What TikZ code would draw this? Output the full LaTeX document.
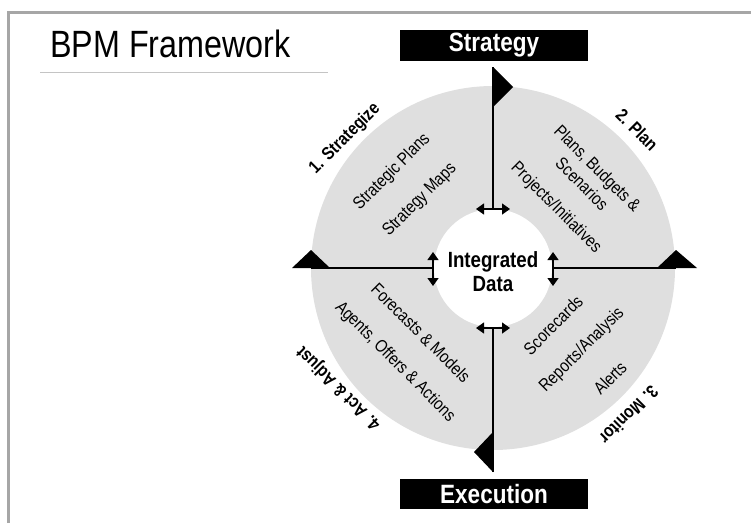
\documentclass[tikz,border=0pt]{standalone}
\usepackage{fontspec}
\setmainfont{Liberation Sans}[FakeStretch=0.85]
\usetikzlibrary{arrows.meta}
\definecolor{ringgray}{HTML}{DFDFDF}
\definecolor{framegray}{HTML}{A6A6A6}
\definecolor{rulegray}{HTML}{C4C4C4}
\begin{document}
\begin{tikzpicture}[x=1pt,y=-1pt,
  item/.style={font=\fontsize{17.5}{20}\selectfont, inner sep=0pt, align=center},
  phase/.style={font=\fontsize{18}{20}\selectfont\bfseries, inner sep=0pt},
  banner/.style={fill=black, text=white, font=\fontsize{26.5}{30}\selectfont\bfseries,
    minimum width=188pt, minimum height=31pt, inner sep=0pt},
  link/.style={line width=1.3pt},
  dbl/.style={line width=1.3pt, {Triangle[length=8pt,width=11pt]}-{Triangle[length=8pt,width=11pt]}},
  flag/.style={fill=black}
]
\useasboundingbox (0,0) rectangle (751,523);
% frame
\draw[framegray, line width=2.6pt] (8.5,523) -- (8.5,12.5) -- (760,12.5);
% title
\node[anchor=base west, inner sep=0pt, font=\fontsize{38}{40}\selectfont] (title) at (50,57) {BPM Framework};
\draw[rulegray, line width=1.2pt] (40,72.5) -- (328,72.5);
% ring
\coordinate (c) at (493,268);
\fill[ringgray] (c) circle[radius=182pt];
\fill[white] (c) circle[radius=59pt];
% banners
\node[banner] (strategy) at (494,45.5) {Strategy};
\node[banner, minimum height=30pt] (execution) at (494,494) {Execution};
% flag coordinates
\coordinate (tflag) at (493,67);
\coordinate (lflag) at (311,268);
\coordinate (rflag) at (676,268);
\coordinate (bflag) at (493,472);
\coordinate (tin) at (493,209);
\coordinate (lin) at (433,268);
\coordinate (rin) at (553,268);
\coordinate (bin) at (493,328);
% lines
\draw[link] (tflag) -- (tin);
\draw[link] (lflag) -- (lin);
\draw[link] (rin) -- (rflag);
\draw[link] (bin) -- (bflag);
% flags
\fill[flag] (493,67) -- (513,87) -- (493,107) -- cycle;
\fill[flag] (292,268) -- (311,250) -- (330,268) -- cycle;
\fill[flag] (657,268) -- (676,250) -- (697,268) -- cycle;
\fill[flag] (493,432) -- (474,452) -- (493,472) -- cycle;
% double arrows
\coordinate (ta1) at (476,209); \coordinate (ta2) at (510,209);
\coordinate (la1) at (433,252); \coordinate (la2) at (433,286);
\coordinate (ra1) at (553,252); \coordinate (ra2) at (553,286);
\coordinate (ba1) at (476,328); \coordinate (ba2) at (510,328);
\draw[dbl] (ta1) -- (ta2);
\draw[dbl] (la1) -- (la2);
\draw[dbl] (ra1) -- (ra2);
\draw[dbl] (ba1) -- (ba2);
% centre
\node[font=\fontsize{22}{24}\selectfont\bfseries, align=center, inner sep=0pt] (data) at (493,272) {Integrated\\Data};
% phase labels
\node[phase, rotate=45] (p1) at (345,139) {1. Strategize};
\node[phase, rotate=-45] (p2) at (637,130) {2. Plan};
\node[phase, rotate=225] (p3) at (629,415) {3. Monitor};
\node[phase, rotate=135] (p4) at (339,388) {4. Act \& Adjust};
% items
\node[item, rotate=45] (i11) at (392,172) {Strategic Plans};
\node[item, rotate=45] (i12) at (420,200) {Strategy Maps};
\node[item, rotate=-45, font=\fontsize{17.5}{22}\selectfont] (i21) at (590,176) {Plans, Budgets \&\\Scenarios};
\node[item, rotate=-45] (i22) at (556,208) {Projects/Initiatives};
\node[item, rotate=45] (i31) at (553,325) {Scorecards};
\node[item, rotate=45] (i32) at (582,350) {Reports/Analysis};
\node[item, rotate=45] (i33) at (610,378) {Alerts};
\node[item, rotate=-45] (i41) at (421,333) {Forecasts \& Models};
\node[item, rotate=-45] (i42) at (395,362) {Agents, Offers \& Actions};
\end{tikzpicture}
\end{document}
